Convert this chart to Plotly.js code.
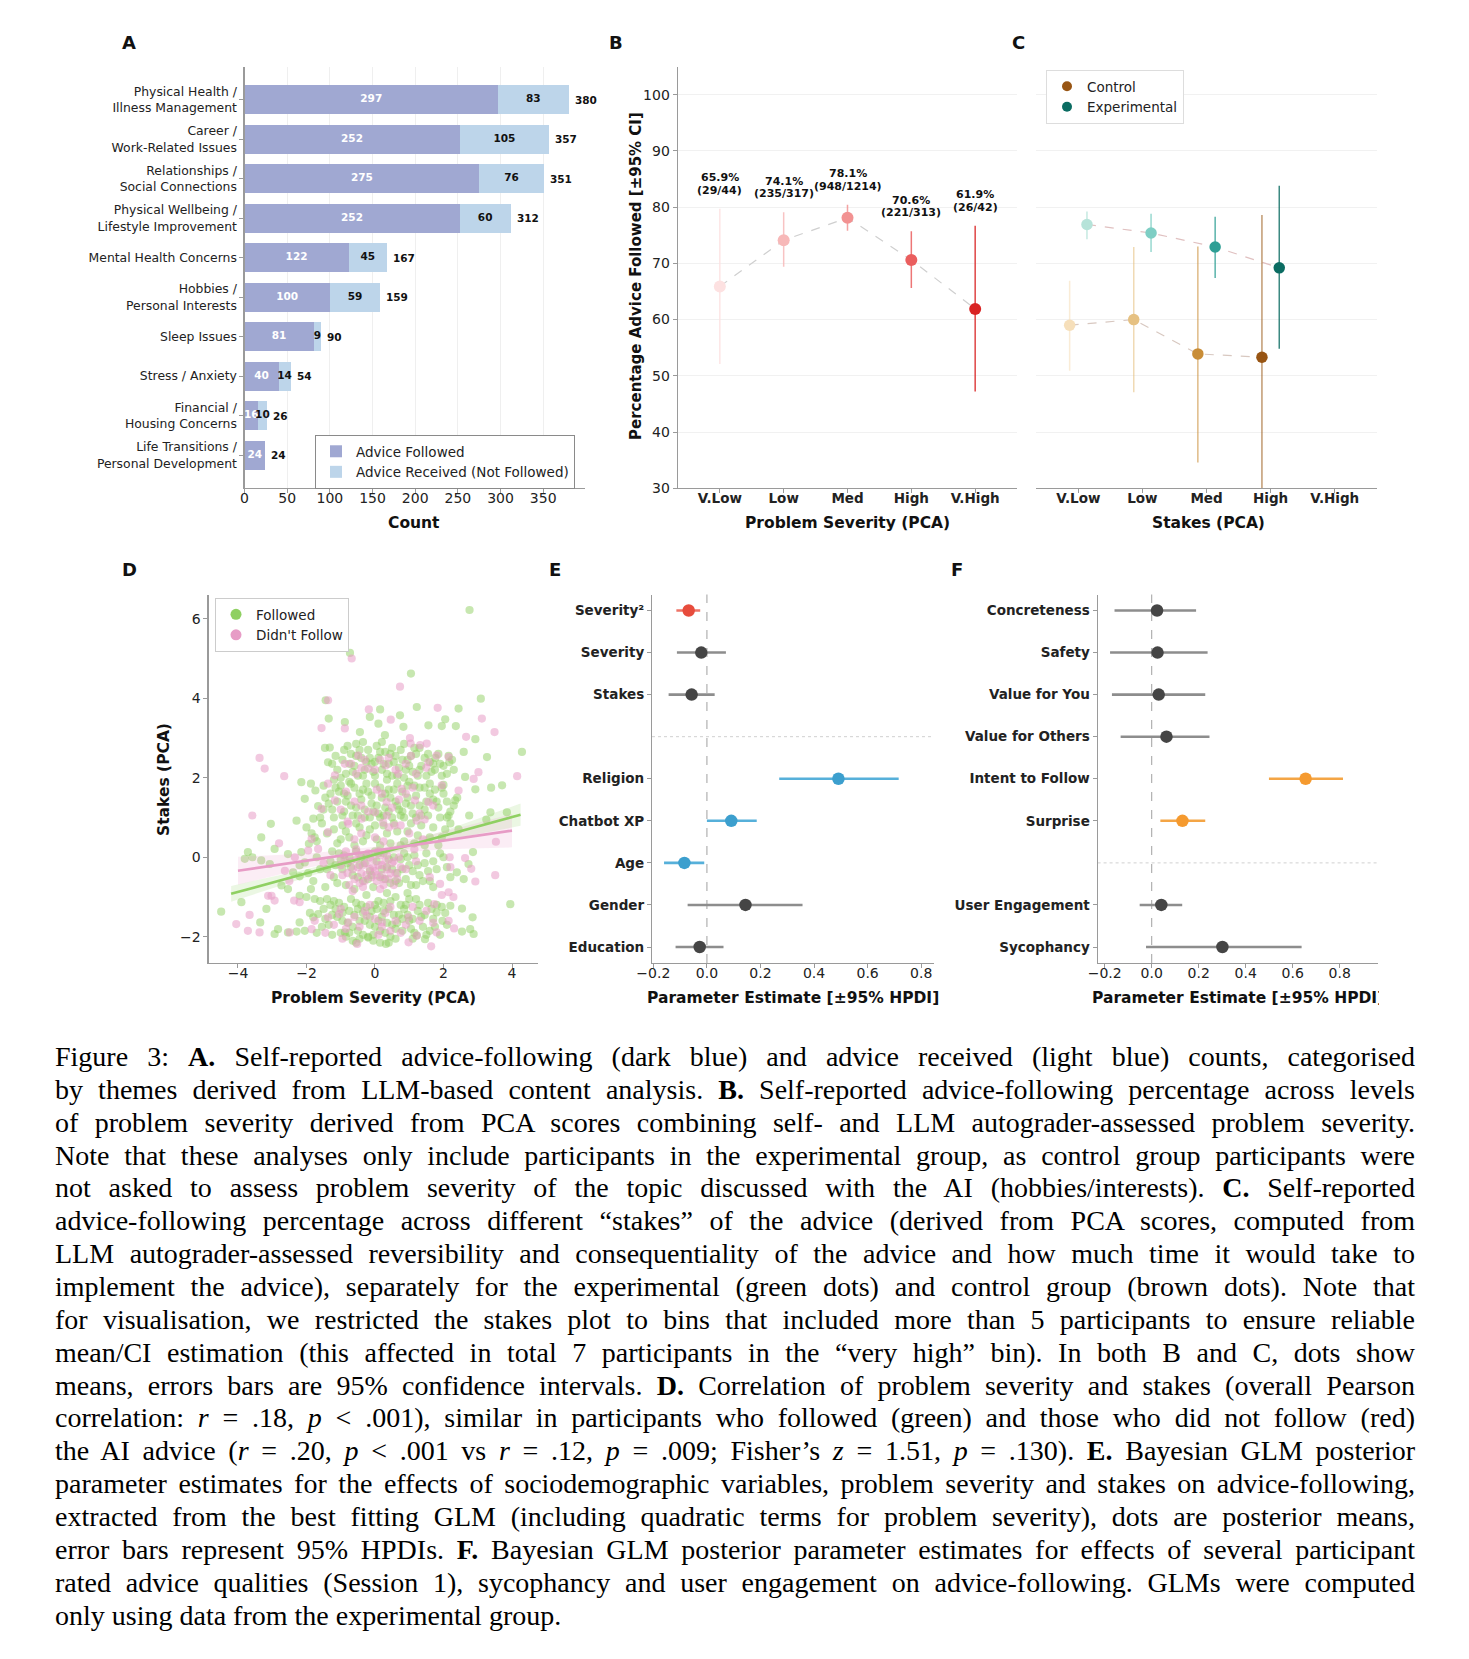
<!DOCTYPE html>
<html><head><meta charset="utf-8">
<script src="https://cdn.plot.ly/plotly-3.0.1.min.js"></script>
<style>
html,body{margin:0;padding:0;background:#fff;}
#wrap{position:relative;width:1469px;height:1659px;overflow:hidden;}
#chart{position:absolute;left:0;top:0;width:1469px;height:1659px;}
#clip{position:absolute;left:1379px;top:975px;width:90px;height:45px;background:#fff;}
#caption{position:absolute;left:55px;top:1041px;width:1360px;font-family:'Liberation Serif','Times New Roman',serif;font-size:26px;color:#000;}
.cl{height:32.87px;line-height:32.87px;white-space:nowrap;}
.cl.j{text-align:justify;text-align-last:justify;}
</style></head>
<body><div id="wrap"><div id="chart"></div><div id="clip"></div><div id="caption"></div></div>
<script>
// ---------------- DATA ----------------
// Panel A
const themes = ["Physical Health /<br>Illness Management","Career /<br>Work-Related Issues","Relationships /<br>Social Connections","Physical Wellbeing /<br>Lifestyle Improvement","Mental Health Concerns","Hobbies /<br>Personal Interests","Sleep Issues","Stress / Anxiety","Financial /<br>Housing Concerns","Life Transitions /<br>Personal Development"];
const adviceFollowed = [297,252,275,252,122,100,81,40,16,24];
const adviceNotFollowed = [83,105,76,60,45,59,9,14,10,0];
const countTicks = [0,50,100,150,200,250,300,350];

// Panel B
const severityLevels = ["V.Low","Low","Med","High","V.High"];
const sevFollowed = [29,235,948,221,26];
const sevTotal = [44,317,1214,313,42];
const sevCiLow = [52.1,69.4,75.8,65.6,47.2];
const sevCiHigh = [79.7,79.1,80.4,75.7,76.7];
const pctTicks = [30,40,50,60,70,80,90,100];

// Panel C
const stakesLevels = ["V.Low","Low","Med","High","V.High"];
const controlMean = [59.0,60.0,53.9,53.3];
const controlCiLow = [50.9,47.1,34.6,28.0];
const controlCiHigh = [66.9,72.9,73.0,78.6];
const expMean = [76.9,75.4,72.9,69.2];
const expCiLow = [74.3,72.0,67.4,54.8];
const expCiHigh = [79.2,78.8,78.3,83.8];

// Panel D
const followedXY = [
[2.76,6.22],[-0.73,5.14],[1.05,4.62],[3.09,3.99],[-1.35,3.49],[-1.44,3.95],[4.29,2.65],[2.44,3.74],[1.22,3.78],[3.27,2.52],[3.39,1.75],[3.95,-1.18],[-4.49,-1.37],[-3.90,-1.13],[-3.04,0.84],[-2.29,0.92],[-3.32,0.50],
[-1.32,2.76],[-0.88,3.40],[-0.44,3.15],[-0.15,3.53],[0.15,3.72],[0.10,3.36],[0.29,3.07],[0.73,3.57],[0.83,3.28],[1.56,3.32],[1.95,3.30],[2.05,3.47],[2.36,3.30],[2.93,2.97],[3.71,1.81],[3.85,1.13],[3.37,1.13],[3.25,0.95],[2.59,2.65],[2.17,2.39],[1.76,2.50],[2.00,1.82],[2.63,2.02],[2.93,1.71],[2.34,1.43],[2.75,1.05],[2.15,1.05],[2.44,0.70],[2.86,0.13],[2.73,-0.17],[2.39,-0.38],[2.59,-0.55],[2.85,-1.51],[2.54,-1.29],[2.78,-1.81],[2.88,-1.93],[2.54,-1.87],[2.20,-1.22],[1.80,-1.39],[1.97,-1.60],[1.46,-2.06],[1.22,-1.97],[0.32,-2.18],[-0.20,-2.02],[-0.88,-1.89],
[-3.71,0.13],[-3.58,0.0],[-2.93,0.21],[-2.54,0.08],[-2.15,0.13],[-1.93,0.34],[-1.76,0.50],[-2.05,-0.13],[-2.39,-0.38],[-2.73,-0.71],[-2.54,-0.80],[-2.20,-0.97],[-1.76,-1.05],[-2.83,-1.81],[-2.93,-1.93],[-2.54,-1.89],[-2.29,-1.87],[-2.05,-1.85],[-2.20,-1.64],[-1.80,-1.51],[-1.66,-1.43],[-1.87,-0.80],[-2.15,1.89],[-1.87,1.85],[-1.74,1.68],[-2.05,1.47],[-1.66,1.29],[-1.80,0.97],[-1.46,2.75],[-1.37,2.39],[-3.07,-0.17],[-3.32,-0.08],[-3.80,-0.04],[-3.17,-1.30],[-3.35,-1.64],[-2.20,-0.48],
[-1.1,2.2],[-0.95,2.45],[-0.85,2.1],[-0.7,2.6],[-0.6,2.3],[-0.5,2.05],[-0.4,2.5],[-0.3,2.2],[-0.2,2.7],[-0.1,2.35],[0.0,2.05],[0.1,2.5],[0.2,2.2],[0.3,2.65],[0.4,2.35],[0.5,2.05],[0.6,2.55],[0.7,2.25],[0.85,2.0],[0.95,2.45],[1.1,2.15],[1.2,2.6],[1.35,2.3],[1.5,2.05],[1.6,2.4],[1.75,2.2],[1.9,2.35],[2.1,2.1],[2.25,2.45],[-0.8,2.8],[0.05,2.8],[0.5,2.75],[1.3,2.75],[-0.35,2.9],
[-1.5,1.2],[-1.3,1.6],[-1.2,1.0],[-1.1,1.4],[-1.0,1.8],[-0.9,1.15],[-0.8,1.55],[-0.7,1.3],[-0.6,1.75],[-0.5,1.05],[-0.4,1.45],[-0.3,1.2],[-0.2,1.65],[-0.1,1.35],[0.0,1.85],[0.1,1.1],[0.2,1.5],[0.3,1.25],[0.4,1.7],[0.5,1.0],[0.6,1.4],[0.7,1.2],[0.8,1.65],[0.9,1.35],[1.0,1.9],[1.1,1.1],[1.2,1.55],[1.3,1.3],[1.45,1.75],[1.55,1.05],[1.7,1.45],[1.85,1.25],[2.0,1.6],[2.2,1.15],[2.4,1.5],[-0.75,1.9],[0.35,1.95],[-0.15,1.0],[0.85,1.0],[1.6,1.85],
[-1.4,0.6],[-1.1,0.35],[-0.95,0.8],[-0.75,0.5],[-0.55,0.85],[-0.35,0.4],[-0.15,0.7],[0.05,0.45],[0.25,0.8],[0.45,0.35],[0.65,0.65],[0.85,0.4],[1.05,0.85],[1.25,0.55],[1.45,0.3],[1.7,0.75],[1.95,0.5],[2.2,0.85],[-1.7,0.4],[-2.0,0.75],
[-1.3,-0.1],[-1.2,-0.5],[-1.05,0.1],[-0.95,-0.3],[-0.85,-0.7],[-0.75,0.0],[-0.65,-0.45],[-0.55,0.15],[-0.45,-0.2],[-0.35,-0.6],[-0.25,0.05],[-0.15,-0.35],[-0.05,-0.75],[0.05,-0.1],[0.15,-0.5],[0.25,0.1],[0.35,-0.25],[0.45,-0.65],[0.55,0.0],[0.65,-0.4],[0.75,-0.05],[0.9,-0.55],[1.0,-0.2],[1.15,0.05],[1.3,-0.45],[1.45,-0.15],[1.6,-0.6],[1.8,-0.3],[2.0,0.0],[2.2,-0.5],[-1.6,-0.3],[-1.8,-0.6],[-2.2,-0.2],
[-1.5,-1.3],[-1.35,-1.7],[-1.2,-1.1],[-1.1,-1.5],[-1.0,-1.9],[-0.9,-1.25],[-0.8,-1.65],[-0.7,-1.05],[-0.6,-1.45],[-0.5,-1.85],[-0.4,-1.2],[-0.3,-1.6],[-0.2,-2.0],[-0.1,-1.35],[0.0,-1.75],[0.1,-1.1],[0.2,-1.5],[0.3,-1.9],[0.4,-1.3],[0.5,-1.7],[0.6,-1.0],[0.7,-1.45],[0.8,-1.85],[0.9,-1.2],[1.0,-1.6],[1.1,-2.05],[1.25,-1.35],[1.4,-1.75],[1.55,-1.15],[1.7,-1.55],[1.9,-1.95],[2.05,-1.4],[-1.7,-1.9],[-1.9,-1.4],[-0.65,-2.1],[0.15,-2.15],[0.6,-2.05],[-0.25,-0.95],[0.35,-0.9],[0.95,-0.9],
[-1.25,2.35],[-0.9,2.7],[-0.65,2.15],[-0.45,2.7],[-0.25,2.4],[-0.05,2.15],[0.15,2.65],[0.35,2.1],[0.55,2.4],[0.75,2.7],[0.9,2.2],[1.05,2.55],[1.25,2.05],[1.45,2.5],[1.65,2.15],[1.85,2.6],[2.0,2.3],
[-1.35,1.35],[-1.05,1.65],[-0.85,1.4],[-0.65,1.05],[-0.45,1.6],[-0.25,1.85],[-0.05,1.15],[0.15,1.75],[0.25,1.05],[0.45,1.5],[0.65,1.85],[0.75,1.05],[0.95,1.5],[1.15,1.8],[1.35,1.05],[1.5,1.4],[1.75,1.7],[1.9,1.0],[2.1,1.4],
[-1.45,-0.75],[-1.15,-0.2],[-0.9,0.05],[-0.7,-0.25],[-0.5,-0.5],[-0.3,-0.15],[-0.1,-0.45],[0.1,0.1],[0.3,-0.55],[0.5,-0.3],[0.7,-0.65],[0.85,0.1],[1.1,-0.35],[1.2,-0.7],[1.5,0.1],[1.7,-0.1],
[-1.4,-1.05],[-1.15,-1.3],[-0.95,-1.6],[-0.75,-1.9],[-0.55,-1.15],[-0.35,-1.4],[-0.15,-1.7],[0.05,-1.3],[0.25,-1.15],[0.45,-2.0],[0.65,-1.65],[0.85,-1.3],[1.05,-1.8],[1.2,-1.05],[1.35,-1.5],[1.6,-1.85],[1.8,-1.2],[-0.05,-2.1],[-0.45,-2.05],[-1.25,-1.95],
[-1.15,2.55],[-1.0,2.0],[-0.75,2.35],[-0.55,2.55],[-0.35,2.05],[-0.15,2.5],[0.0,2.4],[0.2,2.9],[0.25,2.35],[0.45,2.6],[0.65,2.05],[0.8,2.45],[1.0,2.3],[1.15,2.75],[1.3,2.2],[1.55,2.6],[1.7,2.35],[1.95,2.05],[2.15,2.55],[2.3,2.2],[-0.55,2.85],[0.85,2.85],[-1.2,1.95],
[-1.45,1.5],[-1.25,1.2],[-1.15,1.75],[-0.95,1.05],[-0.9,1.6],[-0.7,1.85],[-0.55,1.25],[-0.35,1.7],[-0.3,1.0],[-0.1,1.55],[0.05,1.3],[0.15,1.0],[0.3,1.6],[0.4,1.15],[0.55,1.7],[0.65,1.3],[0.8,1.15],[0.95,1.8],[1.05,1.3],[1.2,1.0],[1.3,1.75],[1.45,1.2],[1.6,1.6],[1.8,1.4],[1.95,1.75],[2.1,1.0],[2.3,1.3],[-1.6,1.0],[-1.5,1.8],
[-1.2,0.7],[-1.0,0.45],[-0.85,0.65],[-0.6,0.3],[-0.45,0.75],[-0.25,0.55],[0.0,0.8],[0.15,0.3],[0.35,0.6],[0.55,0.85],[0.75,0.3],[0.95,0.65],[1.15,0.35],[1.35,0.8],[1.6,0.5],[1.85,0.3],[2.05,0.7],[-1.55,0.85],[-1.85,0.6],
[-1.4,-0.3],[-1.25,0.15],[-1.1,-0.65],[-1.0,-0.05],[-0.8,-0.15],[-0.6,-0.8],[-0.4,0.0],[-0.2,-0.55],[0.0,0.15],[0.2,-0.3],[0.4,-0.05],[0.6,-0.6],[0.8,-0.3],[0.95,0.0],[1.05,-0.7],[1.25,-0.2],[1.4,-0.6],[1.55,-0.35],[1.7,-0.75],[1.9,0.1],[2.1,-0.25],[-1.7,0.0],[-1.95,-0.4],
[-1.45,-1.55],[-1.3,-1.2],[-1.25,-1.45],[-1.05,-1.15],[-0.95,-1.4],[-0.85,-2.0],[-0.75,-1.35],[-0.65,-1.75],[-0.5,-1.3],[-0.45,-1.6],[-0.35,-1.95],[-0.25,-1.25],[-0.15,-1.5],[-0.05,-1.95],[0.0,-1.2],[0.1,-1.6],[0.15,-1.85],[0.25,-1.35],[0.35,-1.65],[0.45,-1.1],[0.55,-1.45],[0.6,-1.8],[0.75,-1.2],[0.8,-1.55],[0.95,-1.45],[1.0,-1.05],[1.1,-1.55],[1.15,-1.9],[1.3,-1.2],[1.45,-1.45],[1.5,-1.95],[1.65,-1.3],[1.75,-1.75],[1.95,-1.25],[2.1,-1.7],[-1.55,-1.75],[-1.6,-1.1],[-2.0,-1.0],[-0.55,-2.15],[0.4,-2.15]
];
const notFollowedXY = [
[-0.68,5.0],[0.73,4.29],[-1.37,3.95],[-0.18,3.72],[1.83,3.76],[3.12,3.49],[3.49,3.15],[2.66,3.03],[4.15,2.04],[-3.37,2.50],[-3.22,2.23],[-2.65,2.04],[-3.58,1.05],[3.53,0.39],[3.51,-0.45],[-4.05,-1.68],[-3.71,-1.85],[-3.37,-1.89],[-0.52,-2.18],[1.64,-2.24],[0.98,-2.14],[-3.12,-0.97],
[-1.56,3.25],[-0.88,3.24],[0.46,3.46],[1.02,3.0],[1.04,2.86],[1.51,2.86],[2.15,2.52],[2.88,1.97],[3.02,2.14],[2.44,1.68],[1.95,1.81],[1.56,1.39],[1.22,0.92],[2.18,0.0],[2.63,-0.02],[2.81,-0.29],[2.93,-0.61],[1.90,-0.67],[2.15,-0.88],[2.29,-1.0],[1.73,-1.18],[2.15,-1.60],[2.31,-1.79],[1.80,-1.89],[1.22,-1.97],[0.98,-1.51],[0.20,-1.64],[-0.24,-1.47],[-0.78,-1.64],[-1.05,-1.43],[-1.37,-1.51],[-1.76,-1.60],[-1.85,-1.81],[-2.49,-1.89],[-2.20,-1.13],[-2.36,-1.09],[-2.93,-1.09],[-3.02,-0.97],[-3.66,-1.45],[-2.63,-0.34],[-2.34,0.0],[-1.95,0.17],[-1.66,0.21],[-1.85,0.46],[-1.37,0.63],[-1.56,1.22],[-1.17,1.43],[-1.37,1.85],[-1.17,2.06],[-0.88,2.35],[-0.49,2.56],[-0.20,2.23],[0.31,2.31],[0.68,2.10],[0.78,1.72],[0.34,1.39],[0.0,1.13],[-0.39,0.97],[-0.78,0.84],[0.24,0.87],[0.57,0.80],[1.17,1.43],[1.32,2.82],[1.80,2.56],[1.56,2.39],
[-1.0,-0.2],[-0.9,0.0],[-0.8,-0.4],[-0.7,-0.1],[-0.6,-0.55],[-0.5,-0.25],[-0.45,0.05],[-0.4,-0.4],[-0.3,-0.6],[-0.25,-0.15],[-0.2,0.1],[-0.15,-0.3],[-0.1,-0.5],[-0.05,-0.05],[0.0,-0.35],[0.05,-0.6],[0.1,-0.2],[0.15,0.05],[0.2,-0.45],[0.3,-0.1],[0.35,-0.3],[0.4,-0.55],[0.5,-0.15],[0.6,-0.4],[0.7,0.0],[-0.55,0.2],[-0.35,-0.75],[0.25,-0.7],[-0.75,-0.7],[0.55,-0.7],
[-0.6,-1.5],[-0.3,-1.35],[0.0,-1.55],[0.3,-1.4],[0.6,-1.6],[-0.85,-1.8],[0.9,-1.7],[1.3,-1.6],[1.5,-1.35],[-1.2,-1.7],[0.1,-1.95],[0.45,-1.85],
[-0.55,2.1],[-0.3,2.45],[0.0,2.2],[0.4,2.5],[0.9,2.35],[1.2,2.1],[-0.6,1.4],[-0.2,1.15],[0.2,1.6],[0.5,1.25],[0.9,1.6],[1.3,1.1],[1.7,1.3],[-1.0,1.2],[-0.4,0.6],[0.0,0.5],[0.4,0.75],[1.0,0.6],[1.4,0.45],[-0.8,0.9],[0.9,-0.3],[1.2,-0.1],[1.6,-0.5],[-1.3,-0.45],[-1.5,-0.15],
[-0.95,-0.45],[-0.85,0.15],[-0.65,-0.3],[-0.55,-0.05],[-0.45,-0.65],[-0.35,-0.2],[-0.25,-0.45],[-0.15,0.0],[-0.05,-0.25],[0.05,-0.45],[0.1,0.15],[0.2,-0.2],[0.25,-0.55],[0.35,0.05],[0.45,-0.4],[0.55,-0.1],[0.65,-0.55],[0.75,-0.25],[-0.65,-0.85],[0.15,-0.8],
[-0.7,2.35],[-0.4,2.25],[0.15,2.45],[0.6,2.2],[1.05,2.55],[1.5,2.25],[-0.85,1.65],[-0.4,1.3],[0.05,1.7],[0.35,1.05],[0.7,1.45],[1.1,1.75],[1.45,0.95],[-0.6,0.45],[0.25,0.4],[0.75,0.8],[1.15,0.2],
[-1.0,-1.3],[-0.45,-1.75],[-0.15,-1.2],[0.2,-1.75],[0.45,-1.25],[0.75,-1.9],[1.1,-1.25],[1.7,-1.65],[-1.45,-1.9],[-0.95,-2.05],[1.95,-0.95],[2.2,-0.25],[-2.5,-0.6],[-2.8,0.35]
];
// regression fits
const followedFitX = [-4.2,-2,0,2,4.25];
const followedFitY = [-0.92,-0.40,0.07,0.54,1.07];
const followedFitLow = [-1.12,-0.50,0.01,0.42,0.79];
const followedFitHigh = [-0.72,-0.30,0.13,0.66,1.35];
const notFollowedFitX = [-4,-2,0,2,4];
const notFollowedFitY = [-0.34,-0.09,0.165,0.42,0.67];
const notFollowedFitLow = [-0.69,-0.27,0.065,0.20,0.25];
const notFollowedFitHigh = [0.01,0.09,0.265,0.64,1.09];

// Panel E
const eParams = ["Severity²","Severity","Stakes","Religion","Chatbot XP","Age","Gender","Education"];
const eMean = [-0.068,-0.021,-0.057,0.491,0.091,-0.084,0.144,-0.027];
const eLow  = [-0.114,-0.112,-0.143,0.270,0.000,-0.160,-0.072,-0.117];
const eHigh = [-0.025,0.071,0.029,0.716,0.186,-0.010,0.357,0.062];
// Panel F
const fParams = ["Concreteness","Safety","Value for You","Value for Others","Intent to Follow","Surprise","User Engagement","Sycophancy"];
const fMean = [0.023,0.025,0.030,0.063,0.655,0.131,0.041,0.301];
const fLow  = [-0.158,-0.177,-0.169,-0.132,0.499,0.037,-0.051,-0.024];
const fHigh = [0.189,0.238,0.228,0.246,0.814,0.228,0.130,0.638];
const estTicks = [-0.2,0,0.2,0.4,0.6,0.8];

// ---------------- STYLE ----------------
const W = 1469, H = 1659;
const px = v => v / W, py = v => 1 - v / H;
const FF = 'DejaVu Sans, sans-serif';
const TXT = '#222';
const AX = '#9a9a9a';
const COL_FOLLOW = '#a0a8d2', COL_NOTF = '#bdd5ea';
const sevColors = ['#fde1e1','#f7b8b8','#f29292','#ea5e5e','#d92323'];
const ctrlColors = ['#f6dfba','#e6c182','#c98d37','#985513'];
const expColors = ['#b6e3d9','#7ecec4','#2e9f95','#0b6c62'];
const GREEN = '143,208,98', PINK = '231,156,198';
const styleE = ['red','grey','grey','blue','blue','blue','grey','grey'];
const styleF = ['grey','grey','grey','grey','orange','orange','grey','grey'];
const palette = {red:['#e74c3c','#ee7366'], grey:['#454545','#8d8d8d'], blue:['#3c9fce','#56b0da'], orange:['#f59a2f','#f4a545']};
const eSplit = 3, fSplit = 6, dodge = 0.135;
function rgba(hex, a){const n=parseInt(hex.slice(1),16);return `rgba(${n>>16},${(n>>8)&255},${n&255},${a})`;}

const traces = [];
const annotations = [];
const shapes = [];

// ----- A -----
const totals = adviceFollowed.map((v,i)=>v+adviceNotFollowed[i]);
traces.push({type:'bar',orientation:'h',name:'Advice Followed',y:themes,x:adviceFollowed,width:0.73,marker:{color:COL_FOLLOW,line:{width:0}},xaxis:'x',yaxis:'y',hoverinfo:'skip'});
traces.push({type:'bar',orientation:'h',name:'Advice Received (Not Followed)',y:themes,x:adviceNotFollowed,width:0.73,marker:{color:COL_NOTF,line:{width:0}},xaxis:'x',yaxis:'y',hoverinfo:'skip'});
traces.push({type:'scatter',mode:'text',x:adviceFollowed.map(v=>v/2),y:themes,text:adviceFollowed.map(v=>`<b>${v}</b>`),textfont:{family:FF,size:10.5,color:'#ffffff'},xaxis:'x',yaxis:'y',showlegend:false,cliponaxis:false,hoverinfo:'skip'});
const nfIdx = adviceNotFollowed.map((v,i)=>i).filter(i=>adviceNotFollowed[i]>0);
traces.push({type:'scatter',mode:'text',x:nfIdx.map(i=>adviceFollowed[i]+adviceNotFollowed[i]/2),y:nfIdx.map(i=>themes[i]),text:nfIdx.map(i=>`<b>${adviceNotFollowed[i]}</b>`),textfont:{family:FF,size:10.5,color:'#111'},xaxis:'x',yaxis:'y',showlegend:false,cliponaxis:false,hoverinfo:'skip'});
totals.forEach((t,i)=>annotations.push({x:t,y:themes[i],xref:'x',yref:'y',xanchor:'left',yanchor:'middle',xshift:4,showarrow:false,text:`<b>${t}</b>`,font:{family:FF,size:10.5,color:'#111'}}));

// ----- B -----
const sevPct = sevFollowed.map((f,i)=>Math.round(f/sevTotal[i]*1000)/10);
const sevX = severityLevels.map((_,i)=>i);
traces.push({type:'scatter',mode:'lines',x:sevX,y:sevPct,line:{color:'#cfcfcf',width:1.2,dash:'dash'},xaxis:'x2',yaxis:'y2',showlegend:false,hoverinfo:'skip'});
sevPct.forEach((p,i)=>{
  traces.push({type:'scatter',mode:'markers',x:[i],y:[p],marker:{size:12,color:sevColors[i]},
    error_y:{type:'data',symmetric:false,array:[sevCiHigh[i]-p],arrayminus:[p-sevCiLow[i]],color:rgba(sevColors[i],0.85),thickness:1.5,width:0},
    xaxis:'x2',yaxis:'y2',showlegend:false,hoverinfo:'skip'});
  annotations.push({x:i,y:sevCiHigh[i],xref:'x2',yref:'y2',yanchor:'bottom',yshift:10,showarrow:false,text:`<b>(${sevFollowed[i]}/${sevTotal[i]})</b>`,font:{family:FF,size:11,color:'#111'}});
  annotations.push({x:i,y:sevCiHigh[i],xref:'x2',yref:'y2',yanchor:'bottom',yshift:22.5,showarrow:false,text:`<b>${p.toFixed(1)}%</b>`,font:{family:FF,size:11,color:'#111'}});
});

// ----- C -----
const ctrlX = controlMean.map((_,i)=>i-dodge), expX = expMean.map((_,i)=>i+dodge);
traces.push({type:'scatter',mode:'lines',x:ctrlX,y:controlMean,line:{color:'#d8c8c0',width:1.2,dash:'dash'},xaxis:'x3',yaxis:'y3',showlegend:false,hoverinfo:'skip'});
traces.push({type:'scatter',mode:'lines',x:expX,y:expMean,line:{color:'#e0c0c0',width:1.2,dash:'dash'},xaxis:'x3',yaxis:'y3',showlegend:false,hoverinfo:'skip'});
controlMean.forEach((m,i)=>traces.push({type:'scatter',mode:'markers',x:[ctrlX[i]],y:[m],marker:{size:11.5,color:ctrlColors[i]},
  error_y:{type:'data',symmetric:false,array:[controlCiHigh[i]-m],arrayminus:[m-controlCiLow[i]],color:rgba(ctrlColors[i],0.6),thickness:1.5,width:0},xaxis:'x3',yaxis:'y3',showlegend:false,hoverinfo:'skip'}));
expMean.forEach((m,i)=>traces.push({type:'scatter',mode:'markers',x:[expX[i]],y:[m],marker:{size:11.5,color:expColors[i]},
  error_y:{type:'data',symmetric:false,array:[expCiHigh[i]-m],arrayminus:[m-expCiLow[i]],color:rgba(expColors[i],0.8),thickness:1.5,width:0},xaxis:'x3',yaxis:'y3',showlegend:false,hoverinfo:'skip'}));
traces.push({type:'scatter',mode:'markers',x:[null],y:[null],name:'Control',marker:{size:10,color:ctrlColors[3]},xaxis:'x3',yaxis:'y3',legend:'legend2',hoverinfo:'skip'});
traces.push({type:'scatter',mode:'markers',x:[null],y:[null],name:'Experimental',marker:{size:10,color:expColors[3]},xaxis:'x3',yaxis:'y3',legend:'legend2',hoverinfo:'skip'});

// ----- D -----
function band(xs,lo,hi){return {x:xs.concat(xs.slice().reverse()),y:lo.concat(hi.slice().reverse())};}
traces.push({type:'scatter',mode:'markers',x:followedXY.map(p=>p[0]),y:followedXY.map(p=>p[1]),marker:{size:8.2,color:`rgba(${GREEN},0.5)`,line:{width:0}},xaxis:'x4',yaxis:'y4',showlegend:false,hoverinfo:'skip'});
const gb = band(followedFitX,followedFitLow,followedFitHigh);
traces.push({type:'scatter',mode:'lines',x:gb.x,y:gb.y,fill:'toself',fillcolor:`rgba(${GREEN},0.18)`,line:{width:0},xaxis:'x4',yaxis:'y4',showlegend:false,hoverinfo:'skip'});
traces.push({type:'scatter',mode:'markers',x:notFollowedXY.map(p=>p[0]),y:notFollowedXY.map(p=>p[1]),marker:{size:8.2,color:`rgba(${PINK},0.55)`,line:{width:0}},xaxis:'x4',yaxis:'y4',showlegend:false,hoverinfo:'skip'});
const pb = band(notFollowedFitX,notFollowedFitLow,notFollowedFitHigh);
traces.push({type:'scatter',mode:'lines',x:pb.x,y:pb.y,fill:'toself',fillcolor:`rgba(${PINK},0.18)`,line:{width:0},xaxis:'x4',yaxis:'y4',showlegend:false,hoverinfo:'skip'});
traces.push({type:'scatter',mode:'lines',x:followedFitX,y:followedFitY,line:{color:`rgb(${GREEN})`,width:2.6},xaxis:'x4',yaxis:'y4',showlegend:false,hoverinfo:'skip'});
traces.push({type:'scatter',mode:'lines',x:notFollowedFitX,y:notFollowedFitY,line:{color:`rgb(${PINK})`,width:2.6},xaxis:'x4',yaxis:'y4',showlegend:false,hoverinfo:'skip'});
traces.push({type:'scatter',mode:'markers',x:[null],y:[null],name:'Followed',marker:{size:11,color:`rgb(${GREEN})`},xaxis:'x4',yaxis:'y4',legend:'legend3',hoverinfo:'skip'});
traces.push({type:'scatter',mode:'markers',x:[null],y:[null],name:"Didn't Follow",marker:{size:11,color:`rgb(${PINK})`},xaxis:'x4',yaxis:'y4',legend:'legend3',hoverinfo:'skip'});

// ----- E / F -----
function forest(params,mean,lo,hi,style,split,xa,ya){
  const ys = params.map((_,i)=>i + (i>=split?1:0));
  params.forEach((p,i)=>{
    const c = palette[style[i]];
    traces.push({type:'scatter',mode:'markers',x:[mean[i]],y:[ys[i]],marker:{size:12.5,color:c[0]},
      error_x:{type:'data',symmetric:false,array:[hi[i]-mean[i]],arrayminus:[mean[i]-lo[i]],color:c[1],thickness:2.6,width:0},
      xaxis:xa,yaxis:ya,showlegend:false,hoverinfo:'skip',cliponaxis:false});
  });
  shapes.push({type:'line',xref:xa,yref:ya+' domain',x0:0,x1:0,y0:0,y1:1,line:{color:'#b0b0b0',width:1.2,dash:'dash'},layer:'below'});
  shapes.push({type:'line',xref:xa+' domain',yref:ya,x0:0,x1:1,y0:split,y1:split,line:{color:'#d0d0d0',width:1,dash:'dot'},layer:'below'});
  return ys;
}
const eY = forest(eParams,eMean,eLow,eHigh,styleE,eSplit,'x5','y5');
const fY = forest(fParams,fMean,fLow,fHigh,styleF,fSplit,'x6','y6');

// ---------------- LAYOUT ----------------
const numFont = {family:FF,size:14,color:TXT};
const catFont = {family:FF,size:12.4,color:TXT};
const boldTick = {family:FF,size:13.5,color:TXT,weight:'bold'};
function ax(o){return Object.assign({showline:true,linecolor:AX,linewidth:1.1,ticks:'outside',ticklen:4,tickwidth:1,tickcolor:AX,zeroline:false,showgrid:false,tickfont:numFont,fixedrange:true,automargin:false},o);}
const XS = -7, YS = -3.5;
const rowA = [py(488.3),py(66.5)], rowB = [py(963),py(594.5)];
const catTicks = severityLevels.map((_,i)=>i);

const layout = {
  width:W,height:H,margin:{l:0,r:0,t:0,b:0},paper_bgcolor:'#fff',plot_bgcolor:'rgba(0,0,0,0)',
  barmode:'stack',hovermode:false,showlegend:true,
  font:{family:FF,color:TXT},
  xaxis: ax({domain:[px(244.5),px(585)],anchor:'y',range:[0,399],tickvals:countTicks,showgrid:true,gridcolor:'#efefef',ticklabelstandoff:XS}),
  yaxis: ax({domain:rowA,anchor:'x',type:'category',categoryorder:'array',categoryarray:themes,range:[9.84,-0.84],tickfont:catFont,ticklabelstandoff:YS}),
  xaxis2: ax({domain:[px(677.7),px(1017.3)],anchor:'y2',range:[-0.66,4.66],tickvals:catTicks,ticktext:severityLevels,tickfont:boldTick,ticklabelstandoff:XS}),
  yaxis2: ax({domain:rowA,anchor:'x2',range:[30,105],tickvals:pctTicks,showgrid:true,gridcolor:'#f1f1f1',ticklabelstandoff:YS}),
  xaxis3: ax({domain:[px(1036),px(1377)],anchor:'y3',range:[-0.66,4.66],tickvals:catTicks,ticktext:stakesLevels,tickfont:boldTick,ticklabelstandoff:XS}),
  yaxis3: ax({domain:rowA,anchor:'x3',range:[30,105],tickvals:pctTicks,showgrid:true,gridcolor:'#f1f1f1',showline:false,showticklabels:false,ticks:''}),
  xaxis4: ax({domain:[px(208.5),px(537.7)],anchor:'y4',range:[-4.86,4.75],tickvals:[-4,-2,0,2,4],ticklabelstandoff:XS}),
  yaxis4: ax({domain:rowB,anchor:'x4',range:[-2.66,6.61],tickvals:[-2,0,2,4,6],ticklabelstandoff:YS}),
  xaxis5: ax({domain:[px(652),px(933.5)],anchor:'y5',range:[-0.205,0.846],tickvals:estTicks,tickformat:'.1f',ticklabelstandoff:XS}),
  yaxis5: ax({domain:rowB,anchor:'x5',range:[8.38,-0.38],tickvals:eY,ticktext:eParams,tickfont:boldTick,ticklabelstandoff:YS}),
  xaxis6: ax({domain:[px(1097.6),px(1378)],anchor:'y6',range:[-0.23,0.963],tickvals:estTicks,tickformat:'.1f',ticklabelstandoff:XS}),
  yaxis6: ax({domain:rowB,anchor:'x6',range:[8.38,-0.38],tickvals:fY,ticktext:fParams,tickfont:boldTick,ticklabelstandoff:YS}),
  legend:{x:px(315),y:py(435),xanchor:'left',yanchor:'top',bgcolor:'#fff',bordercolor:'#8a8a8a',borderwidth:1,font:{family:FF,size:13.5,color:TXT},traceorder:'normal',tracegroupgap:2},
  legend2:{x:px(1046),y:py(70),xanchor:'left',yanchor:'top',bgcolor:'#fff',bordercolor:'#dddddd',borderwidth:1,font:{family:FF,size:13.5,color:TXT}},
  legend3:{x:px(215),y:py(598),xanchor:'left',yanchor:'top',bgcolor:'#fff',bordercolor:'#cccccc',borderwidth:1,font:{family:FF,size:13.5,color:TXT}},
  shapes:shapes,
  annotations:annotations
};
function lab(text,x,y,size,angle){annotations.push({text:`<b>${text}</b>`,x:px(x),y:py(y),xref:'paper',yref:'paper',xanchor:'center',yanchor:'middle',showarrow:false,textangle:angle||0,font:{family:FF,size:size,color:'#111'}});}
lab('A',129,42,18); lab('B',616,42,18); lab('C',1019,42,18);
lab('D',129,569,18); lab('E',555,569,18); lab('F',957,569,18);
lab('Count',414,523,15.5);
lab('Problem Severity (PCA)',847,523,15.5);
lab('Stakes (PCA)',1208,523,15.5);
lab('Percentage Advice Followed [±95% CI]',636,276,15,-90);
lab('Problem Severity (PCA)',373,998,15.5);
lab('Stakes (PCA)',164,780,15.5,-90);
lab('Parameter Estimate [±95% HPDI]',793,998,15.5);
lab('Parameter Estimate [±95% HPDI]',1238,998,15.5);

Plotly.newPlot('chart',traces,layout,{displayModeBar:false,staticPlot:true});

// ---------------- CAPTION ----------------
const captionLines = [
 'Figure 3: <b>A.</b> Self-reported advice-following (dark blue) and advice received (light blue) counts, categorised',
 'by themes derived from LLM-based content analysis. <b>B.</b> Self-reported advice-following percentage across levels',
 'of problem severity derived from PCA scores combining self- and LLM autograder-assessed problem severity.',
 'Note that these analyses only include participants in the experimental group, as control group participants were',
 'not asked to assess problem severity of the topic discussed with the AI (hobbies/interests). <b>C.</b> Self-reported',
 'advice-following percentage across different “stakes” of the advice (derived from PCA scores, computed from',
 'LLM autograder-assessed reversibility and consequentiality of the advice and how much time it would take to',
 'implement the advice), separately for the experimental (green dots) and control group (brown dots). Note that',
 'for visualisation, we restricted the stakes plot to bins that included more than 5 participants to ensure reliable',
 'mean/CI estimation (this affected in total 7 participants in the “very high” bin). In both B and C, dots show',
 'means, errors bars are 95% confidence intervals. <b>D.</b> Correlation of problem severity and stakes (overall Pearson',
 'correlation: <i>r</i> = .18, <i>p</i> &lt; .001), similar in participants who followed (green) and those who did not follow (red)',
 'the AI advice (<i>r</i> = .20, <i>p</i> &lt; .001 vs <i>r</i> = .12, <i>p</i> = .009; Fisher’s <i>z</i> = 1.51, <i>p</i> = .130). <b>E.</b> Bayesian GLM posterior',
 'parameter estimates for the effects of sociodemographic variables, problem severity and stakes on advice-following,',
 'extracted from the best fitting GLM (including quadratic terms for problem severity), dots are posterior means,',
 'error bars represent 95% HPDIs. <b>F.</b> Bayesian GLM posterior parameter estimates for effects of several participant',
 'rated advice qualities (Session 1), sycophancy and user engagement on advice-following. GLMs were computed',
 'only using data from the experimental group.'
];
const cap = document.getElementById('caption');
const spans = captionLines.map(t=>{const d=document.createElement('div');d.className='cl';const s=document.createElement('span');s.innerHTML=t;d.appendChild(s);cap.appendChild(d);return s;});
let maxW = 0; spans.forEach(s=>{maxW=Math.max(maxW,s.getBoundingClientRect().width);});
let fs = 26*1354/maxW; fs = Math.max(20,Math.min(28,fs));
cap.style.fontSize = fs+'px';
cap.querySelectorAll('.cl').forEach((d,i)=>{ if(i<captionLines.length-1) d.classList.add('j'); });
</script></body></html>
